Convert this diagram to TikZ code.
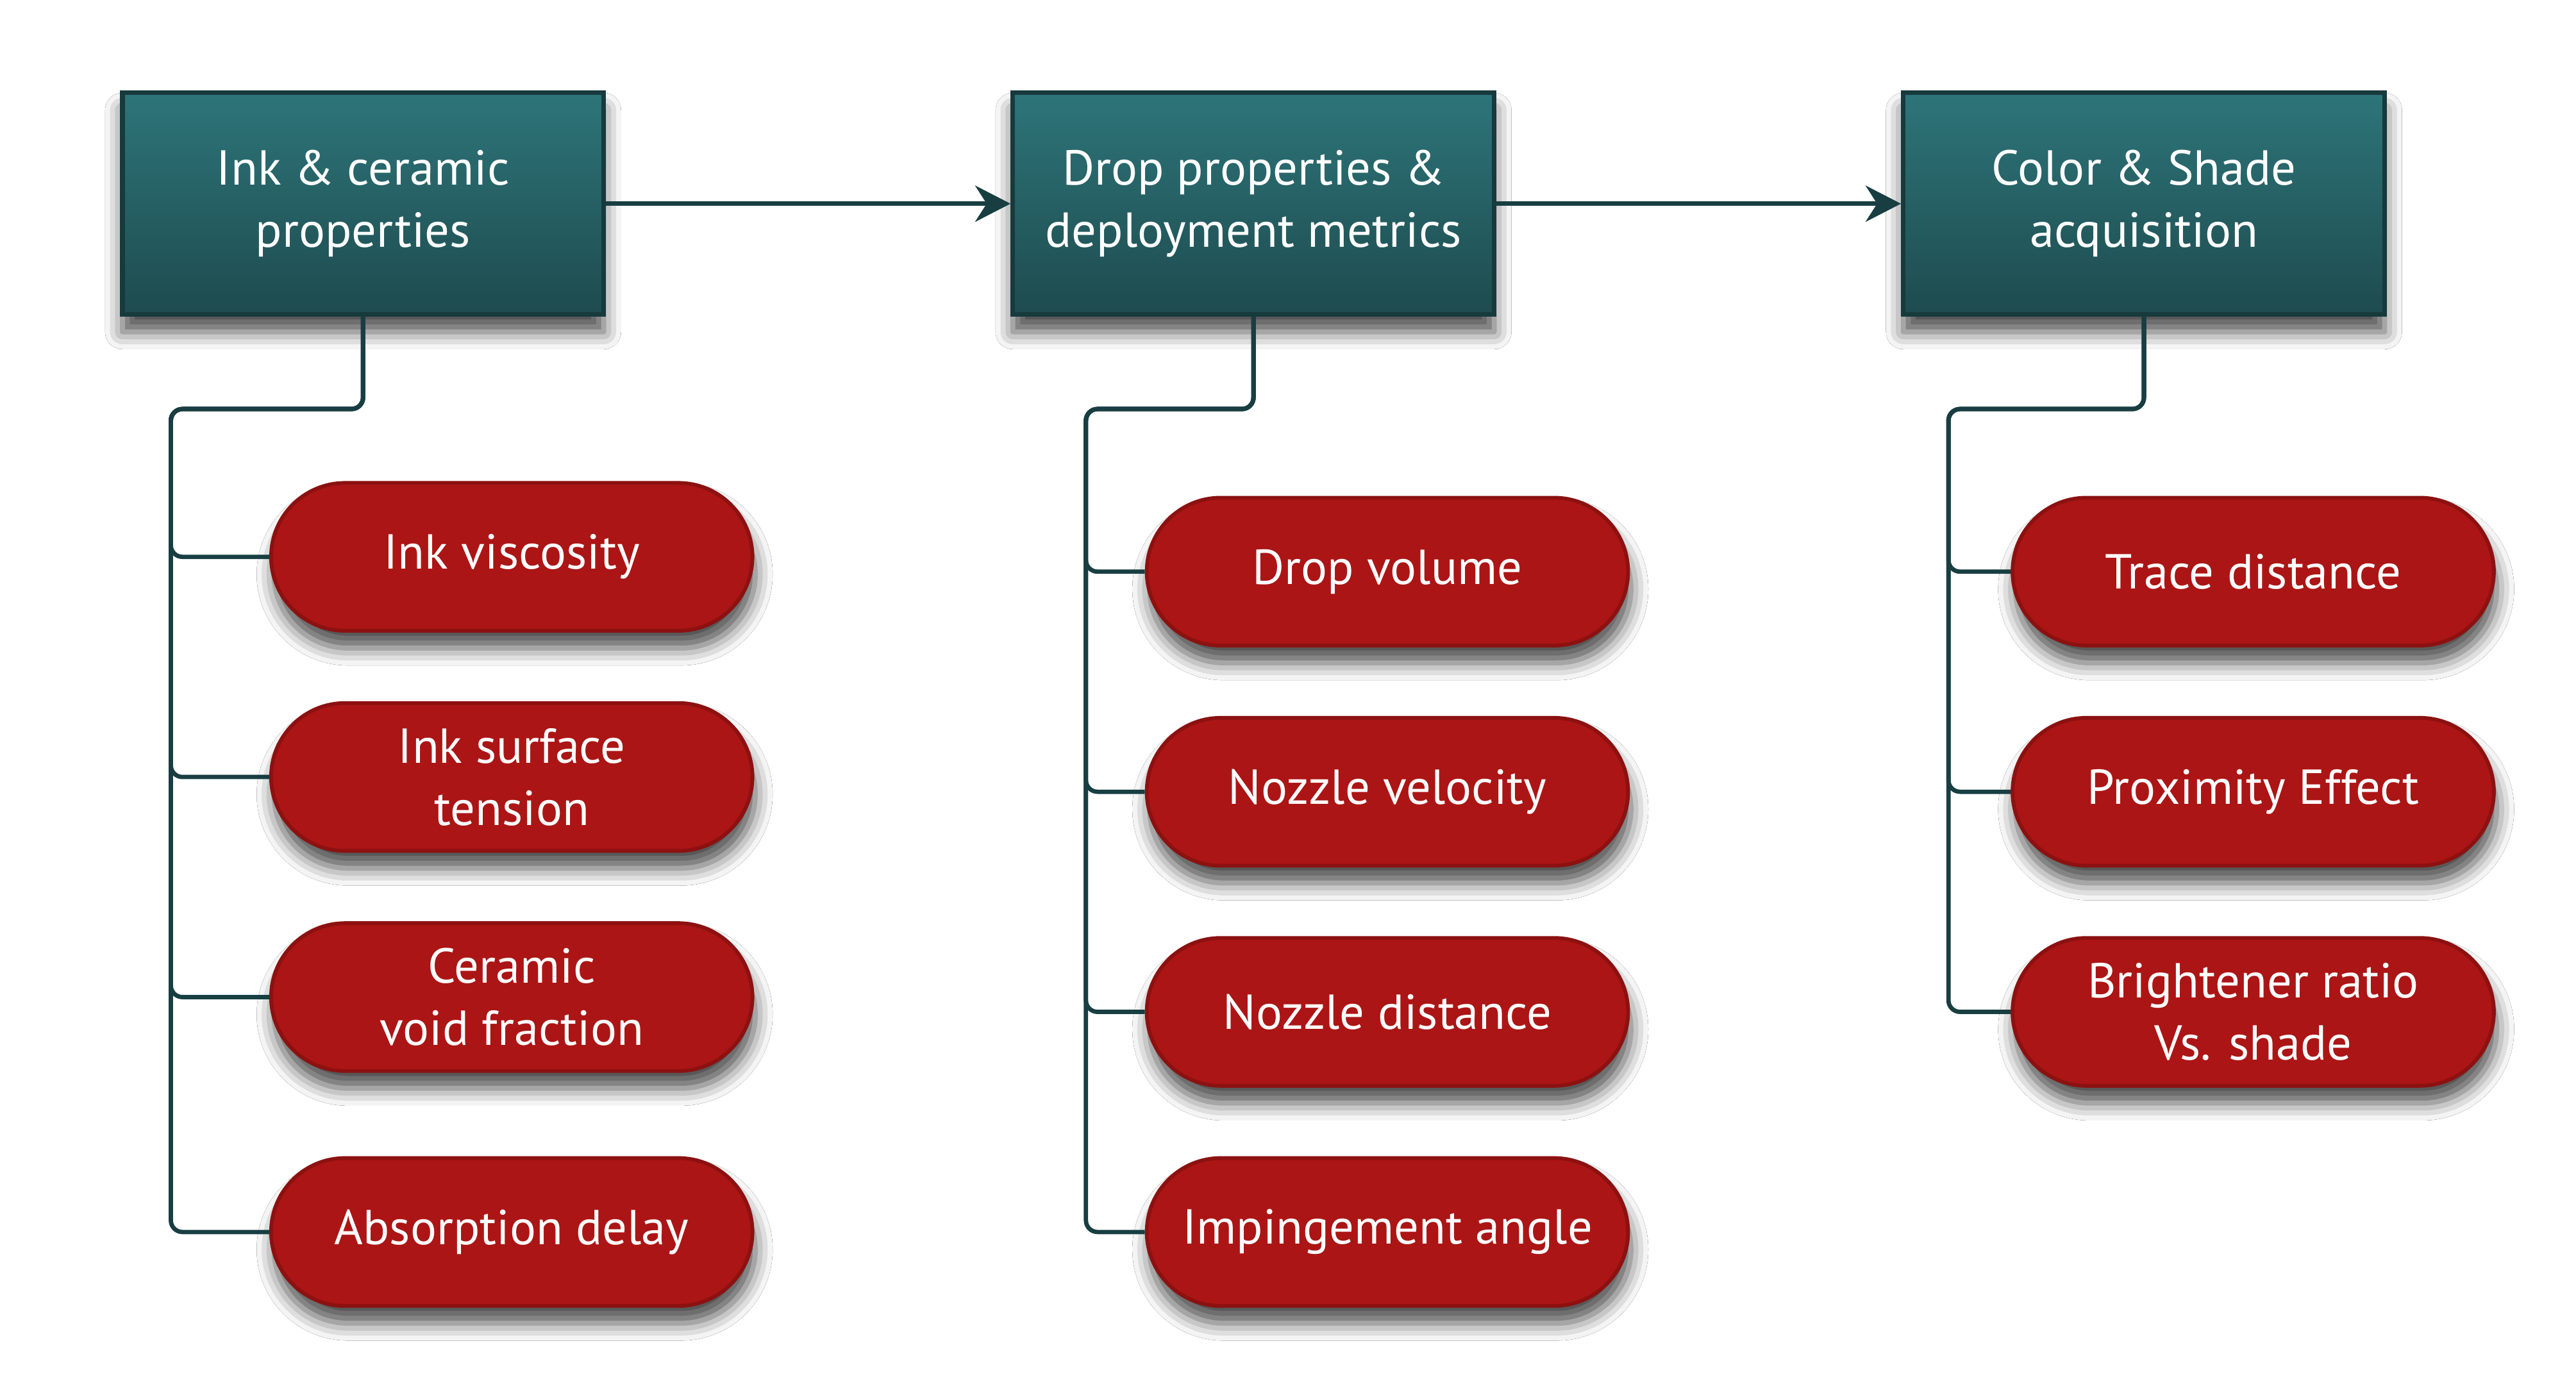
\documentclass[tikz,border=0pt]{standalone}
\usepackage{fontspec}
\setmainfont{PT Sans}
\usetikzlibrary{arrows.meta,shadows.blur}

\definecolor{tealtop}{RGB}{45,117,121}
\definecolor{tealbot}{RGB}{30,75,79}
\definecolor{tealedge}{RGB}{23,58,60}
\definecolor{redfill}{RGB}{172,21,21}
\definecolor{rededge}{RGB}{140,17,17}
\definecolor{linkcol}{RGB}{24,62,66}

\begin{document}
\begin{tikzpicture}[
    stage/.style={draw=tealedge, line width=1.6pt, top color=tealtop, bottom color=tealbot,
        minimum width=5.86cm, minimum height=2.7cm, align=center, text=white,
        font=\fontsize{17}{21.6}\selectfont,
        blur shadow={shadow xshift=0pt, shadow yshift=-6pt, shadow blur radius=6pt, shadow opacity=70}},
    factor/.style={draw=rededge, line width=1.3pt, fill=redfill, rounded corners=0.9cm,
        minimum width=5.86cm, minimum height=1.8cm, align=center, text=white,
        font=\fontsize{17}{21.6}\selectfont,
        blur shadow={shadow xshift=1pt, shadow yshift=-6pt, shadow blur radius=6pt, shadow opacity=70}},
    link/.style={draw=linkcol, line width=1.5pt, rounded corners=4pt},
    flow/.style={draw=linkcol, line width=1.5pt, -{Stealth[length=0.43cm, width=0.44cm]}}
]
    % Page frame
    \fill[white] (0,0) rectangle (31.36,-16.74);
    \useasboundingbox (0,0) rectangle (31.36,-16.74);

    % Stages
    \node[stage] (ink) at (4.42,-2.48) {Ink \& ceramic\\properties};
    \node[stage] (drop) at (15.26,-2.48) {Drop properties \&\\deployment metrics};
    \node[stage] (color) at (26.10,-2.48) {Color \& Shade\\acquisition};

    % Stage arrows
    \draw[flow] (ink.east) -- (drop.west);
    \draw[flow] (drop.east) -- (color.west);

    % Ink factors
    \node[factor] (visc) at (6.23,-6.78) {Ink viscosity};
    \node[factor] (tens) at (6.23,-9.46) {Ink surface\\tension};
    \node[factor] (void) at (6.23,-12.14) {Ceramic\\void fraction};
    \node[factor] (absorb) at (6.23,-15.00) {Absorption delay};

    % Drop factors
    \node[factor] (vol) at (16.89,-6.96) {Drop volume};
    \node[factor] (vel) at (16.89,-9.64) {Nozzle velocity};
    \node[factor] (dist) at (16.89,-12.32) {Nozzle distance};
    \node[factor] (angle) at (16.89,-15.00) {Impingement angle};

    % Color factors
    \node[factor] (trace) at (27.43,-6.96) {Trace distance};
    \node[factor] (prox) at (27.43,-9.64) {Proximity Effect};
    \node[factor] (bright) at (27.43,-12.32) {Brightener ratio\\Vs. shade};

    % Trunk corners
    \coordinate (t1) at (2.08,-4.98);
    \coordinate (t2) at (13.22,-4.98);
    \coordinate (t3) at (23.72,-4.98);

    % Tree links
    \foreach \p in {visc,tens,void,absorb}
        \draw[link] (ink.south) |- (t1) |- (\p.west);
    \foreach \p in {vol,vel,dist,angle}
        \draw[link] (drop.south) |- (t2) |- (\p.west);
    \foreach \p in {trace,prox,bright}
        \draw[link] (color.south) |- (t3) |- (\p.west);
\end{tikzpicture}
\end{document}
